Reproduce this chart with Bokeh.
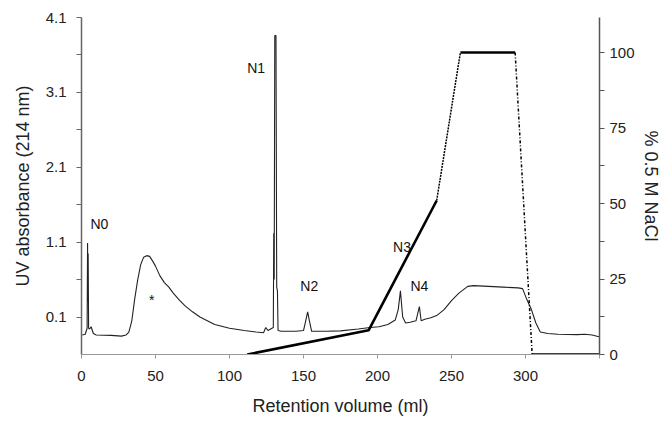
from bokeh.plotting import figure
from bokeh.models import Range1d, LinearAxis, FixedTicker, ColumnDataSource
from bokeh.core.properties import value
from bokeh.embed import file_html
from bokeh.resources import INLINE

# ---------------- data ----------------
uv_ml = [0.5, 2.5, 3.8, 4.1, 4.3, 4.5, 4.8, 5.5, 6.5, 8, 10, 20, 27, 30, 32, 34, 36, 38,
         40, 42, 44, 46, 48, 50, 53, 56, 59, 62, 66, 70, 75, 80, 85, 90, 100, 110, 118,
         123, 124.5, 126, 129.6, 129.9, 130.2, 130.6, 131.4, 131.9, 132.4, 132.8, 135,
         145, 150, 151.5, 152.8, 154, 155.5, 165, 175, 187, 195, 201, 207, 212, 214,
         215.5, 217, 219, 222, 226, 228.3, 229.5, 232, 236, 240, 245, 250, 255, 261,
         265, 275, 285, 295, 298, 301, 304, 307, 310, 315, 322, 335, 340, 345, 349, 350]
uv_abs = [-0.14, -0.13, -0.05, 1.09, 0.3, 0.95, -0.05, -0.06, -0.03, -0.12, -0.14, -0.145,
          -0.155, -0.14, -0.1, 0.05, 0.35, 0.6, 0.8, 0.9, 0.92, 0.91, 0.85, 0.78, 0.65,
          0.56, 0.5, 0.42, 0.33, 0.25, 0.17, 0.1, 0.05, 0.0, -0.05, -0.08, -0.1, -0.11,
          -0.04, -0.08, -0.04, 1.22, 0.6, 3.86, 3.86, 0.5, 0.45, -0.08, -0.09, -0.09,
          -0.08, 0.05, 0.17, 0.05, -0.09, -0.09, -0.085, -0.06, -0.04, -0.03, 0.0, 0.06,
          0.2, 0.45, 0.1, 0.02, 0.03, 0.05, 0.24, 0.05, 0.07, 0.09, 0.12, 0.2, 0.32, 0.42,
          0.51, 0.52, 0.51, 0.5, 0.49, 0.48, 0.33, 0.2, 0.02, -0.1, -0.12, -0.13, -0.135,
          -0.13, -0.14, -0.16, -0.16]

# NaCl gradient (% 0.5 M NaCl)
grad_a_ml = [112, 194, 240]
grad_a_pct = [0, 8, 51]
grad_b_ml = [240, 256]
grad_b_pct = [51, 100]
grad_c_ml = [256, 293]
grad_c_pct = [100, 100]
grad_d_ml = [293, 304.5]
grad_d_pct = [100, 0]
grad_e_ml = [304.5, 350]
grad_e_pct = [0, 0]

peak_names = ["N0", "N1", "N2", "N3", "N4", "*"]
peak_ml = [12.1, 118, 153.9, 216.6, 228.3, 47.5]
peak_abs = [1.34, 3.42, 0.51, 1.03, 0.51, 0.33]

uv_ticks = [0.1, 1.1, 2.1, 3.1, 4.1]
uv_minor = [0.6, 1.6, 2.6, 3.6]
x_ticks = [0, 50, 100, 150, 200, 250, 300, 350]
x_tick_labels = ["0", "50", "100", "150", "200", "250", "300", ""]
nacl_ticks = [0, 25, 50, 75, 100]
nacl_minor = [12.5, 37.5, 62.5, 87.5]

FONT = "Liberation Sans"

p = figure(width=663, height=418, output_backend="svg", toolbar_location=None,
           x_range=Range1d(0, 350), y_range=Range1d(-0.4, 4.1),
           min_border_left=81, min_border_right=61, min_border_top=17, min_border_bottom=60)
p.extra_y_ranges = {"nacl": Range1d(0, 111.6)}
p.grid.visible = False
p.outline_line_color = None
p.background_fill_color = "white"
p.border_fill_color = "white"

# UV trace
p.line(uv_ml, uv_abs, line_color="#222222", line_width=1.1)

# gradient
p.line(grad_a_ml, grad_a_pct, y_range_name="nacl", line_color="black", line_width=2.6)
p.line(grad_b_ml, grad_b_pct, y_range_name="nacl", line_color="black", line_width=1.5,
       line_dash="2 1")
p.line(grad_c_ml, grad_c_pct, y_range_name="nacl", line_color="black", line_width=2.6)
p.line(grad_d_ml, grad_d_pct, y_range_name="nacl", line_color="black", line_width=1.5,
       line_dash="3 2 1 2")
p.line(grad_e_ml, grad_e_pct, y_range_name="nacl", line_color="black", line_width=2.6)

src = ColumnDataSource(dict(x=peak_ml, y=peak_abs, t=peak_names))
p.text(x="x", y="y", text="t", source=src, text_font=value(FONT), text_font_size="14px",
       text_align="center", text_baseline="middle", text_color="#111111")

# axes
xa = p.xaxis[0]
xa.ticker = FixedTicker(ticks=x_ticks)
xa.major_label_overrides = {t: l for t, l in zip(x_ticks, x_tick_labels)}
xa.axis_label = "Retention volume (ml)"
xa.axis_line_color = "#9a9a9a"
xa.major_tick_line_color = "#9a9a9a"
xa.minor_tick_line_color = None
xa.major_tick_in = 0
xa.major_tick_out = 4
xa.major_label_standoff = 12

ya = p.yaxis[0]
ya.ticker = FixedTicker(ticks=uv_ticks, minor_ticks=uv_minor)
ya.major_label_overrides = {t: str(t) for t in uv_ticks}
ya.axis_label = "UV absorbance (214 nm)"
ya.axis_line_color = "#666666"
ya.axis_line_width = 1.5
ya.major_tick_line_color = "#666666"
ya.minor_tick_line_color = "#666666"
ya.major_tick_in = 0
ya.major_tick_out = 5
ya.minor_tick_in = 0
ya.minor_tick_out = 5
ya.major_label_standoff = 10
ya.axis_label_standoff = 10

ra = LinearAxis(y_range_name="nacl", axis_label="% 0.5 M NaCl")
ra.ticker = FixedTicker(ticks=nacl_ticks, minor_ticks=nacl_minor)
ra.axis_line_color = "#555555"
ra.axis_line_width = 1.5
ra.major_tick_line_color = "#555555"
ra.minor_tick_line_color = "#555555"
ra.major_tick_in = 0
ra.major_tick_out = 5
ra.minor_tick_in = 0
ra.minor_tick_out = 5
ra.major_label_standoff = 5
ra.axis_label_standoff = 3
p.add_layout(ra, "right")

for ax in (xa, ya, ra):
    ax.major_label_text_font = FONT
    ax.major_label_text_font_size = "15px"
    ax.major_label_text_color = "#222222"
    ax.axis_label_text_font = FONT
    ax.axis_label_text_font_size = "18px"
    ax.axis_label_text_font_style = "normal"
    ax.axis_label_text_color = "#222222"
xa.axis_label_standoff = 12

open("out.html", "w").write(file_html(p, INLINE))
